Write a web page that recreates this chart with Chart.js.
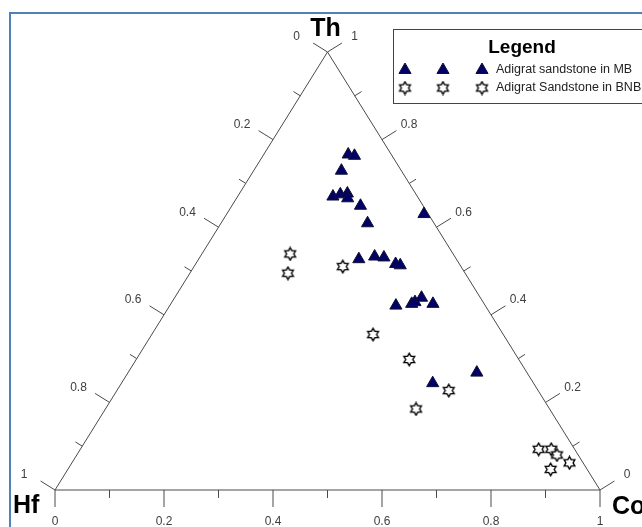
<!DOCTYPE html>
<html>
<head>
<meta charset="utf-8">
<title>Th-Hf-Co ternary diagram</title>
<script src="https://cdn.jsdelivr.net/npm/chart.js@4.4.1/dist/chart.umd.min.js"></script>
<style>
    html, body { margin: 0; padding: 0; background: #ffffff; }
    #wrap { width: 642px; height: 527px; position: relative; overflow: hidden; }
</style>
</head>
<body>
<div id="wrap"><canvas id="ternaryChart" width="642" height="527"></canvas></div>
<script>
// Ternary values (Hf = 1 - Co - Th)
const mbCo = [0.155, 0.168, 0.161, 0.175, 0.186, 0.198, 0.204, 0.236, 0.269, 0.362,
              0.294, 0.320, 0.338, 0.367, 0.377, 0.415, 0.442, 0.446, 0.453, 0.481,
              0.571, 0.640];
const mbTh = [0.766, 0.763, 0.729, 0.670, 0.675, 0.677, 0.666, 0.649, 0.609, 0.630,
              0.527, 0.533, 0.531, 0.516, 0.513, 0.421, 0.425, 0.429, 0.439, 0.425,
              0.244, 0.268];

const bnbCo = [0.162, 0.180, 0.273, 0.406, 0.501, 0.609, 0.570, 0.841, 0.864, 0.881, 0.913, 0.886];
const bnbTh = [0.539, 0.495, 0.510, 0.355, 0.298, 0.227, 0.185, 0.093, 0.093, 0.080, 0.062, 0.047];

const seriesNames = ['Adigrat sandstone in MB', 'Adigrat Sandstone in BNB'];
const apexLabels = ['Th', 'Hf', 'Co'];
const tickValues = [0, 0.2, 0.4, 0.6, 0.8, 1];
const tickLabels = ['0', '0.2', '0.4', '0.6', '0.8', '1'];
const legendTitle = 'Legend';

const MB_COLOR = '#000066';
const LINE_COLOR = '#4a4a4a';
const LABEL_COLOR = '#404040';

// ternary (Co, Th) -> cartesian used by the x/y scales
function toXY(co, th) {
    return { x: co + th / 2, y: th };
}

// six pointed star (outline only) used as point style
function makeStar(size) {
    const c = document.createElement('canvas');
    c.width = size;
    c.height = size;
    const g = c.getContext('2d');
    const R = size / 2 - 1.3;
    const r = R / Math.sqrt(3);
    g.beginPath();
    for (let k = 0; k < 12; k++) {
        const a = -Math.PI / 2 + k * Math.PI / 6;
        const rad = k % 2 === 0 ? R : r;
        const px = size / 2 + Math.cos(a) * rad;
        const py = size / 2 + Math.sin(a) * rad;
        if (k === 0) g.moveTo(px, py); else g.lineTo(px, py);
    }
    g.closePath();
    g.fillStyle = '#ffffff';
    g.fill();
    g.lineWidth = 1.4;
    g.strokeStyle = '#000000';
    g.stroke();
    return c;
}
const starImg = makeStar(15);

function drawTriangleMarker(ctx, x, y, r) {
    ctx.beginPath();
    for (let k = 0; k < 3; k++) {
        const a = -Math.PI / 2 + k * 2 * Math.PI / 3;
        const px = x + Math.cos(a) * r;
        const py = y + Math.sin(a) * r;
        if (k === 0) ctx.moveTo(px, py); else ctx.lineTo(px, py);
    }
    ctx.closePath();
    ctx.fillStyle = MB_COLOR;
    ctx.fill();
    ctx.lineWidth = 1;
    ctx.strokeStyle = '#111133';
    ctx.stroke();
}

// triangle frame, ticks, labels and legend
const ternaryPlugin = {
    id: 'ternaryFrame',
    beforeDatasetsDraw(chart) {
        const ctx = chart.ctx;
        const xs = chart.scales.x;
        const ys = chart.scales.y;
        const px = (co, th) => {
            const p = toXY(co, th);
            return { x: xs.getPixelForValue(p.x), y: ys.getPixelForValue(p.y) };
        };
        const hf = px(0, 0), co = px(1, 0), th = px(0, 1);

        ctx.save();
        // outer blue frame
        ctx.strokeStyle = '#4f81bd';
        ctx.lineWidth = 2;
        ctx.strokeRect(10, 13, 700, 600);

        // triangle
        ctx.strokeStyle = LINE_COLOR;
        ctx.lineWidth = 1;
        ctx.beginPath();
        ctx.moveTo(hf.x, hf.y);
        ctx.lineTo(co.x, co.y);
        ctx.lineTo(th.x, th.y);
        ctx.closePath();
        ctx.stroke();

        // outward normals of each edge
        const norm = (a, b, sign) => {
            const dx = b.x - a.x, dy = b.y - a.y;
            const len = Math.hypot(dx, dy);
            return { x: sign * dy / len, y: -sign * dx / len };
        };
        const nBottom = { x: 0, y: 1 };
        const nLeft = norm(hf, th, 1);
        const nRight = norm(co, th, -1);

        ctx.font = '12px "Liberation Sans", Arial, sans-serif';
        ctx.fillStyle = LABEL_COLOR;
        ctx.textBaseline = 'middle';
        ctx.textAlign = 'center';

        for (let i = 0; i <= 10; i++) {
            const v = i / 10;
            const major = i % 2 === 0;
            const len = major ? 17 : 8;
            // bottom axis: Co fraction
            const pb = px(v, 0);
            // left axis: Hf fraction (Co = 0)
            const pl = px(0, 1 - v);
            // right axis: Th fraction (Hf = 0)
            const pr = px(1 - v, v);
            [[pb, nBottom], [pl, nLeft], [pr, nRight]].forEach(([p, n]) => {
                ctx.beginPath();
                ctx.moveTo(p.x, p.y);
                ctx.lineTo(p.x + n.x * len, p.y + n.y * len);
                ctx.stroke();
            });
        }

        tickValues.forEach((v, i) => {
            const pb = px(v, 0);
            ctx.fillText(tickLabels[i], pb.x, 522);
            const pl = px(0, 1 - v);
            ctx.fillText(tickLabels[i], pl.x - 31, pl.y - 15);
            const pr = px(1 - v, v);
            ctx.fillText(tickLabels[i], pr.x + 27, pr.y - 15);
        });

        // apex labels
        ctx.fillStyle = '#000000';
        ctx.font = 'bold 25px "Liberation Sans", Arial, sans-serif';
        ctx.fillText(apexLabels[0], th.x - 2, 29);
        ctx.textAlign = 'left';
        ctx.fillText(apexLabels[1], 13, 506);
        ctx.fillText(apexLabels[2], 612, 507);
        ctx.restore();
    },
    afterDatasetsDraw(chart) {
        const ctx = chart.ctx;
        ctx.save();
        // legend box
        ctx.fillStyle = '#ffffff';
        ctx.fillRect(393.5, 29.5, 300, 74);
        ctx.strokeStyle = '#444444';
        ctx.lineWidth = 1;
        ctx.strokeRect(393.5, 29.5, 300, 74);

        ctx.fillStyle = '#000000';
        ctx.textBaseline = 'middle';
        ctx.textAlign = 'center';
        ctx.font = 'bold 19px "Liberation Sans", Arial, sans-serif';
        ctx.fillText(legendTitle, 522, 48);

        const cols = [405, 443, 482];
        cols.forEach(x => {
            drawTriangleMarker(ctx, x, 70, 7);
            ctx.drawImage(starImg, x - 7.5, 88 - 7.5);
        });
        ctx.fillStyle = '#222222';
        ctx.textAlign = 'left';
        ctx.font = '12.5px "Liberation Sans", Arial, sans-serif';
        ctx.fillText(seriesNames[0], 496, 70);
        ctx.fillText(seriesNames[1], 496, 88);
        ctx.restore();
    }
};

const ctx = document.getElementById('ternaryChart').getContext('2d');
const ternaryChart = new Chart(ctx, {
    type: 'scatter',
    data: {
        datasets: [
            {
                label: seriesNames[0],
                data: mbCo.map((c, i) => toXY(c, mbTh[i])),
                pointStyle: 'triangle',
                pointRadius: 7,
                backgroundColor: MB_COLOR,
                borderColor: '#111133',
                borderWidth: 1
            },
            {
                label: seriesNames[1],
                data: bnbCo.map((c, i) => toXY(c, bnbTh[i])),
                pointStyle: starImg,
                pointRadius: 7
            }
        ]
    },
    options: {
        responsive: false,
        animation: false,
        events: [],
        clip: false,
        layout: { padding: { left: 55, right: 42, top: 52, bottom: 37 } },
        scales: {
            x: { type: 'linear', min: 0, max: 1, display: false },
            y: { type: 'linear', min: 0, max: 1, display: false }
        },
        plugins: {
            legend: { display: false },
            tooltip: { enabled: false }
        }
    },
    plugins: [ternaryPlugin]
});
</script>
</body>
</html>
